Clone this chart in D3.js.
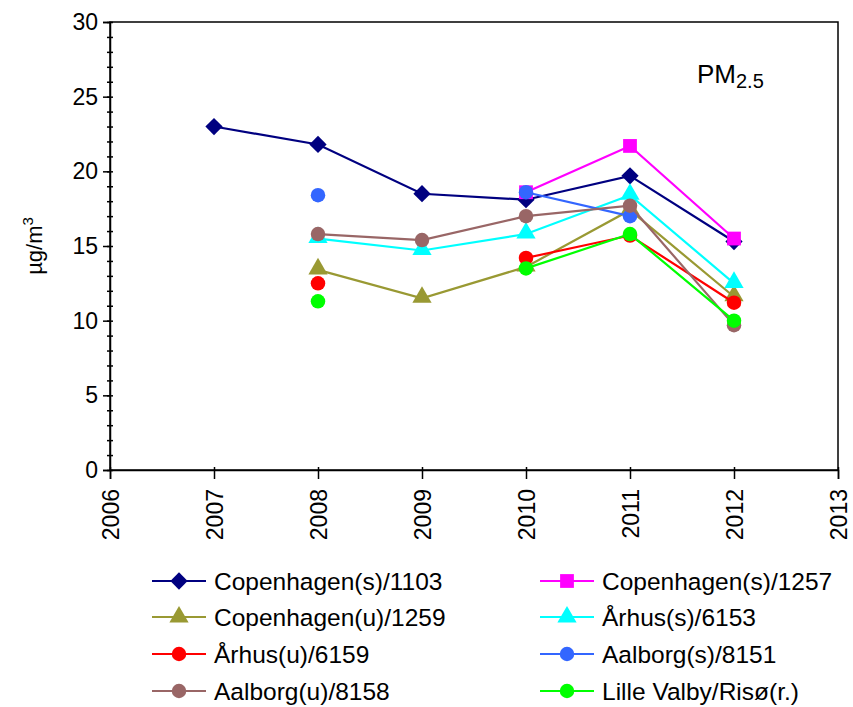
<!DOCTYPE html>
<html>
<head>
<meta charset="utf-8">
<script src="https://cdn.jsdelivr.net/npm/d3@7"></script>
<style>
  body { margin: 0; background: #fff; }
  text { font-family: "Liberation Sans", Arial, sans-serif; fill: #000; }
</style>
</head>
<body>
<div id="vis"></div>
<script>

var years = [2007, 2008, 2009, 2010, 2011, 2012];
var xTicks = [2006, 2007, 2008, 2009, 2010, 2011, 2012, 2013];
var yTicks = [0, 5, 10, 15, 20, 25, 30];

var cph1103 = [23.0, 21.8, 18.5, 18.1, 19.7, 15.3];
var cph1257 = [null, null, null, 18.6, 21.7, 15.5];
var cph1259 = [null, 13.4, 11.5, 13.6, 17.4, 11.6];
var arh6153 = [null, 15.5, 14.7, 15.8, 18.4, 12.5];
var arh6159 = [null, 12.5, null, 14.2, 15.7, 11.2];
var aal8151 = [null, 18.4, null, 18.6, 17.0, null];
var aal8158 = [null, 15.8, 15.4, 17.0, 17.7, 9.7];
var risoe   = [null, 11.3, null, 13.5, 15.8, 10.0];

var seriesNames = ['Copenhagen(s)/1103', 'Copenhagen(s)/1257', 'Copenhagen(u)/1259', 'Århus(s)/6153',
                   'Århus(u)/6159', 'Aalborg(s)/8151', 'Aalborg(u)/8158', 'Lille Valby/Risø(r.)'];
var seriesValues = [cph1103, cph1257, cph1259, arh6153, arh6159, aal8151, aal8158, risoe];
var seriesColors = ['#000080', '#ff00ff', '#999933', '#00ffff', '#ff0000', '#3366ff', '#996666', '#00ff00'];
var seriesShapes = ['diamond', 'square', 'triangle', 'triangle', 'circle', 'circle', 'circle', 'circle'];

var width = 853;
var height = 707;
var margin = { top: 22, right: 15, bottom: 237, left: 110 };

var svg = d3.select('#vis').append('svg')
  .attr('width', width)
  .attr('height', height);

var x = d3.scaleLinear().domain([2006, 2013]).range([margin.left, width - margin.right]);
var y = d3.scaleLinear().domain([0, 30]).range([height - margin.bottom, margin.top]);

var symbols = {
  diamond: d3.symbol().type(d3.symbolDiamond2).size(190),
  square: d3.symbol().type(d3.symbolSquare).size(190),
  triangle: d3.symbol().type(d3.symbolTriangle).size(160),
  circle: d3.symbol().type(d3.symbolCircle).size(165)
};

// frame
svg.append('rect')
  .attr('x', x(2006)).attr('y', y(30))
  .attr('width', x(2013) - x(2006)).attr('height', y(0) - y(30))
  .attr('fill', 'none').attr('stroke', '#000').attr('stroke-width', 1.5);

// y minor ticks
svg.append('g')
  .attr('transform', 'translate(' + (x(2006) + 3) + ',0)')
  .call(d3.axisLeft(y).ticks(30).tickSize(6).tickFormat(''))
  .call(function(g) { g.select('.domain').remove(); })
  .selectAll('line').attr('stroke-width', 1.5);

// y axis
var yAxis = svg.append('g')
  .attr('transform', 'translate(' + x(2006) + ',0)')
  .call(d3.axisLeft(y).tickValues(yTicks).tickSize(7).tickPadding(5));
yAxis.select('.domain').attr('stroke-width', 1.5);
yAxis.selectAll('line').attr('stroke-width', 1.5);
yAxis.selectAll('text').style('font-size', '23px').attr('font-family', null);

// x axis
var xAxis = svg.append('g')
  .attr('transform', 'translate(0,' + y(0) + ')')
  .call(d3.axisBottom(x).tickValues(xTicks).tickFormat(d3.format('d')).tickSize(9));
xAxis.select('.domain').attr('stroke-width', 1.5);
xAxis.selectAll('.tick line').attr('y1', -3).attr('stroke-width', 1.5);
xAxis.selectAll('text')
  .style('font-size', '23px').attr('font-family', null)
  .attr('transform', 'rotate(-90)')
  .attr('x', -19).attr('y', 0).attr('dy', '0.35em')
  .style('text-anchor', 'end');

// y axis title
svg.append('text')
  .attr('transform', 'translate(42,' + y(15) + ') rotate(-90)')
  .style('text-anchor', 'middle')
  .style('font-size', '22px')
  .html('µg/m<tspan dy="-9" font-size="15px">3</tspan>');

// PM2.5 label
svg.append('text')
  .attr('x', 697).attr('y', 83)
  .style('font-size', '26px')
  .html('PM<tspan dy="5" font-size="20px">2.5</tspan>');

// series
var line = d3.line()
  .defined(function(d) { return d != null; })
  .x(function(d, i) { return x(years[i]); })
  .y(function(d) { return y(d); });

seriesValues.forEach(function(vals, k) {
  var g = svg.append('g');
  g.append('path')
    .datum(vals)
    .attr('d', line)
    .attr('fill', 'none')
    .attr('stroke', seriesColors[k])
    .attr('stroke-width', 2.2);

  var pts = vals.map(function(v, i) { return { year: years[i], v: v }; })
    .filter(function(d) { return d.v != null; });

  g.selectAll('.pt')
    .data(pts)
    .enter().append('path')
    .attr('d', symbols[seriesShapes[k]])
    .attr('transform', function(d) {
      var dy = seriesShapes[k] === 'triangle' ? -1 : 0;
      return 'translate(' + x(d.year) + ',' + (y(d.v) + dy) + ')';
    })
    .attr('fill', seriesColors[k]);
});

// legend
var legendRows = [581, 617, 654, 691];
var legendCols = [152, 540];

var legend = svg.selectAll('.legend')
  .data(seriesNames)
  .enter().append('g')
  .attr('transform', function(d, i) {
    return 'translate(' + legendCols[i % 2] + ',' + legendRows[Math.floor(i / 2)] + ')';
  });

legend.append('line')
  .attr('x1', 0).attr('x2', 54)
  .attr('stroke', function(d, i) { return seriesColors[i]; })
  .attr('stroke-width', 2.2);

legend.append('path')
  .attr('d', function(d, i) { return symbols[seriesShapes[i]](); })
  .attr('transform', 'translate(27,0)')
  .attr('fill', function(d, i) { return seriesColors[i]; });

legend.append('text')
  .attr('x', 62)
  .attr('dy', '0.36em')
  .style('font-size', '24.5px')
  .text(function(d) { return d; });

</script>
</body>
</html>
